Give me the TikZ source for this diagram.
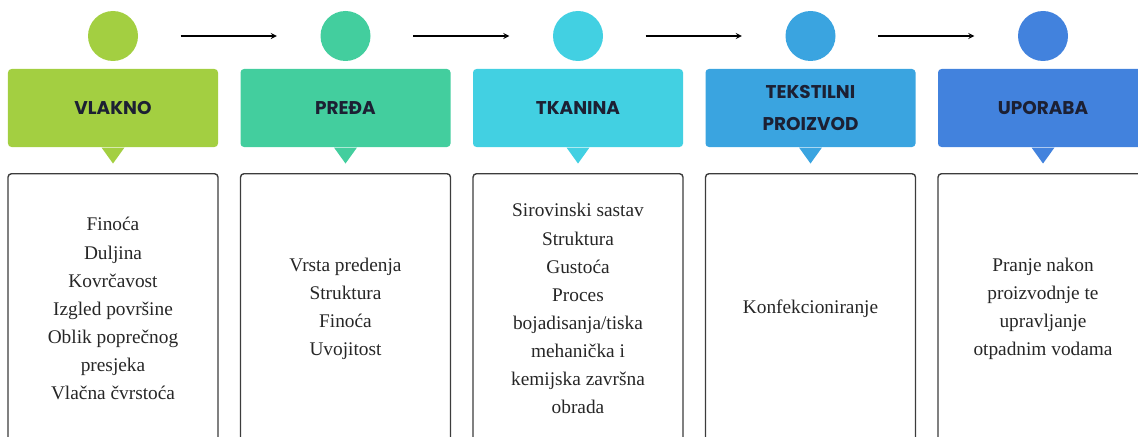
\documentclass[tikz,border=0pt]{standalone}
\usepackage{fontspec}
\setmainfont{Liberation Serif}
\newfontfamily\headfont{Poppins}
\usepackage{tikz}

\definecolor{vlaknocol}{RGB}{163,207,65}
\definecolor{predacol}{RGB}{67,206,158}
\definecolor{tkaninacol}{RGB}{66,208,226}
\definecolor{proizvodcol}{RGB}{58,164,224}
\definecolor{uporabacol}{RGB}{66,130,221}
\definecolor{headtext}{RGB}{28,32,51}
\definecolor{boxline}{RGB}{60,60,60}

\begin{document}
\begin{tikzpicture}
            [->, >=stealth, semithick,
             dot/.style={shape=circle, minimum size=1cm, inner sep=0pt},
             head/.style={shape=rectangle, rounded corners=2pt, minimum width=4.2cm, minimum height=1.56cm,
                          align=center, text=headtext, font=\headfont\bfseries\fontsize{10.5}{18.5}\selectfont},
             card/.style={shape=rectangle, draw=boxline, line width=0.8pt, rounded corners=2pt, anchor=north,
                          minimum width=4.2cm, minimum height=5.4cm, align=center, text=black!85,
                          font=\fontsize{11}{16}\selectfont}]
            \useasboundingbox (0, 0) rectangle (22.76, -8.72);
            \clip (0, 0) rectangle (22.76, -8.72);

            \node[dot, fill=vlaknocol] (c1) at (2.26, -0.72) {};
            \node[dot, fill=predacol] (c2) at (6.91, -0.72) {};
            \node[dot, fill=tkaninacol] (c3) at (11.56, -0.72) {};
            \node[dot, fill=proizvodcol] (c4) at (16.21, -0.72) {};
            \node[dot, fill=uporabacol] (c5) at (20.86, -0.72) {};

            \node[head, fill=vlaknocol] (h1) at (2.26, -2.16) {VLAKNO};
            \node[head, fill=predacol] (h2) at (6.91, -2.16) {PREĐA};
            \node[head, fill=tkaninacol] (h3) at (11.56, -2.16) {TKANINA};
            \node[head, fill=proizvodcol] (h4) at (16.21, -2.16) {TEKSTILNI\\PROIZVOD};
            \node[head, fill=uporabacol] (h5) at (20.86, -2.16) {UPORABA};

            % pointers under the headers
            \fill[vlaknocol] ([xshift=-0.23cm]h1.south) -- ([xshift=0.23cm]h1.south) -- ([yshift=-0.32cm]h1.south) -- cycle;
            \fill[predacol] ([xshift=-0.23cm]h2.south) -- ([xshift=0.23cm]h2.south) -- ([yshift=-0.32cm]h2.south) -- cycle;
            \fill[tkaninacol] ([xshift=-0.23cm]h3.south) -- ([xshift=0.23cm]h3.south) -- ([yshift=-0.32cm]h3.south) -- cycle;
            \fill[proizvodcol] ([xshift=-0.23cm]h4.south) -- ([xshift=0.23cm]h4.south) -- ([yshift=-0.32cm]h4.south) -- cycle;
            \fill[uporabacol] ([xshift=-0.23cm]h5.south) -- ([xshift=0.23cm]h5.south) -- ([yshift=-0.32cm]h5.south) -- cycle;

            \node[card] (b1) at (2.26, -3.46) {Finoća\\Duljina\\Kovrčavost\\Izgled površine\\Oblik poprečnog\\presjeka\\Vlačna čvrstoća};
            \node[card] (b2) at (6.91, -3.46) {Vrsta predenja\\Struktura\\Finoća\\Uvojitost};
            \node[card] (b3) at (11.56, -3.46) {Sirovinski sastav\\Struktura\\Gustoća\\Proces\\bojadisanja/tiska\\mehanička i\\kemijska završna\\obrada};
            \node[card] (b4) at (16.21, -3.46) {Konfekcioniranje};
            \node[card] (b5) at (20.86, -3.46) {Pranje nakon\\proizvodnje te\\upravljanje\\otpadnim vodama};

            \path [->, shorten <=0.84cm, shorten >=0.86cm] (c1) edge (c2);
            \path [->, shorten <=0.84cm, shorten >=0.86cm] (c2) edge (c3);
            \path [->, shorten <=0.84cm, shorten >=0.86cm] (c3) edge (c4);
            \path [->, shorten <=0.84cm, shorten >=0.86cm] (c4) edge (c5);
        \end{tikzpicture}
\end{document}
